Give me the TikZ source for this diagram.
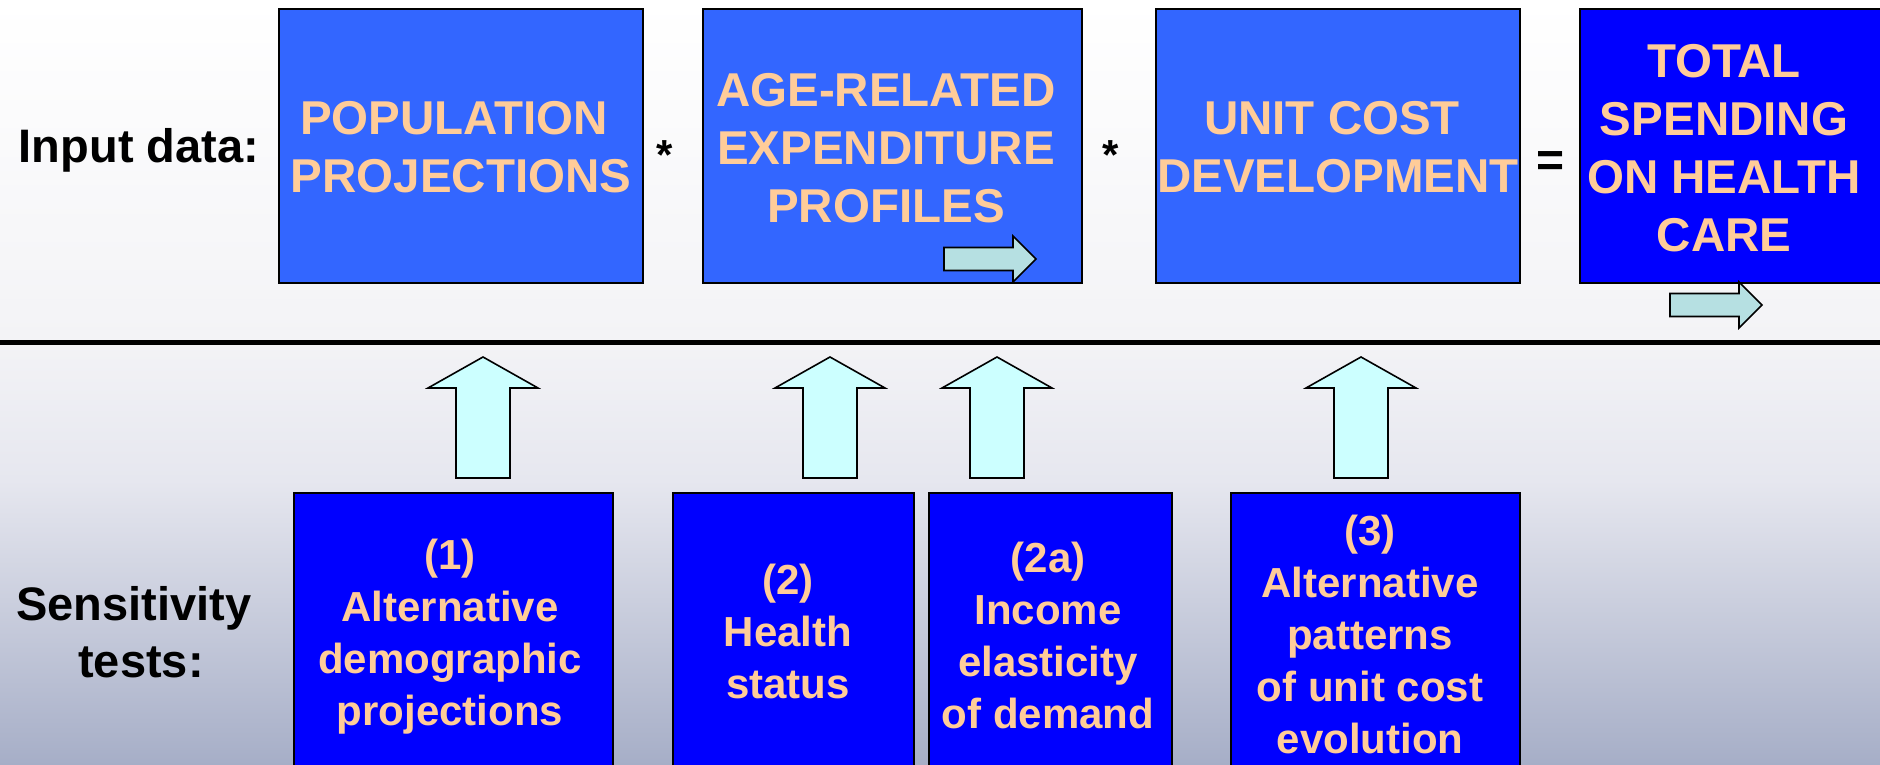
\documentclass[tikz,border=0pt]{standalone}
\usepackage{fontspec}
\setmainfont{Liberation Sans}
\definecolor{boxlight}{HTML}{3366FF}
\definecolor{boxdark}{HTML}{0000FF}
\definecolor{peach}{HTML}{FFCC99}
\definecolor{upcyan}{HTML}{CCFFFF}
\definecolor{rightcyan}{HTML}{B6E0E2}
\definecolor{bgA}{HTML}{F3F3F6}
\definecolor{bgB}{HTML}{E6E7EF}
\definecolor{bgC}{HTML}{A6AEC7}
\newcommand\linestack[1]{\vtop{\halign{\hfil##\hfil\cr#1\crcr}}}
\tikzset{
  inbox/.style={draw=black, line width=2pt, fill=boxlight, inner sep=0pt},
  outbox/.style={draw=black, line width=2pt, fill=boxdark, inner sep=0pt},
  testbox/.style={draw=black, line width=2pt, fill=boxdark, inner sep=0pt},
  toptext/.style={text=peach, font=\fontsize{47.5}{58}\selectfont\bfseries, inner sep=0pt, anchor=base},
  lowtext/.style={text=peach, font=\fontsize{42}{52}\selectfont\bfseries, inner sep=0pt, anchor=base},
  labeltext/.style={text=black, font=\fontsize{47}{57}\selectfont\bfseries, inner sep=0pt, anchor=base},
  optext/.style={text=black, font=\fontsize{42}{50}\selectfont\bfseries, inner sep=0pt, anchor=base},
  eqtext/.style={text=black, font=\fontsize{48}{56}\selectfont\bfseries, inner sep=0pt, anchor=base},
  blockedge/.style={draw=black, line width=1.6pt, line join=miter},
  uparrow/.pic={\draw[blockedge, fill=upcyan] (0,0) -- (55,31) -- (27,31) -- (27,121) -- (-27,121) -- (-27,31) -- (-55,31) -- cycle;},
  rightarrow/.pic={\draw[blockedge, fill=rightcyan] (0,0) -- (-23,-23) -- (-23,-11.5) -- (-92,-11.5) -- (-92,11.5) -- (-23,11.5) -- (-23,23) -- cycle;}
}
\begin{document}
\begin{tikzpicture}[x=1pt,y=-1pt]
\useasboundingbox (0,0) rectangle (1880,765);
\clip (0,0) rectangle (1880,765);
% background
\shade[top color=white, bottom color=bgA] (0,0) rectangle (1880,341);
\shade[top color=bgA, bottom color=bgB] (0,341) rectangle (1880,480);
\shade[top color=bgB, bottom color=bgC] (0,480) rectangle (1880,765);
\draw[line width=5pt] (0,342.5) -- (1880,342.5);

% labels
\node[labeltext] (inputlbl) at (139,163) {Input data:};
\node[labeltext] (senslbl) at (134,620) {\linestack{Sensitivity\cr \kern14pt tests:}};

% top row boxes
\node[inbox, minimum width=364pt, minimum height=274pt] (pop) at (461,146) {};
\node[inbox, minimum width=379pt, minimum height=274pt] (age) at (892.5,146) {};
\node[inbox, minimum width=364pt, minimum height=274pt] (unit) at (1338,146) {};
\node[outbox, minimum width=310pt, minimum height=274pt] (total) at (1735,146) {};

\node[toptext] (popt) at (461,135) {\linestack{POPULATION\kern14pt\cr PROJECTIONS}};
\node[toptext] (aget) at (886,107) {\linestack{AGE-RELATED\cr EXPENDITURE\cr PROFILES}};
\node[toptext] (unitt) at (1338,135) {\linestack{UNIT COST\kern12pt\cr DEVELOPMENT}};
\node[toptext] (totalt) at (1724,78) {\linestack{TOTAL\cr SPENDING\cr ON HEALTH\cr CARE}};

% operators
\node[optext] (star1) at (665,170) {*};
\node[optext] (star2) at (1111,170) {*};
\node[eqtext] (equals) at (1550,176) {=};

% small right arrows
\pic at (1036,259) {rightarrow};
\pic at (1762,305) {rightarrow};

% sensitivity boxes
\node[testbox, minimum width=319pt, minimum height=297pt] (s1) at (453.5,641.5) {};
\node[testbox, minimum width=241pt, minimum height=297pt] (s2) at (793.5,641.5) {};
\node[testbox, minimum width=243pt, minimum height=297pt] (s2a) at (1050.5,641.5) {};
\node[testbox, minimum width=289pt, minimum height=297pt] (s3) at (1375.5,641.5) {};

\node[lowtext] (s1t) at (450,569) {\linestack{(1)\cr Alternative\cr demographic\cr projections}};
\node[lowtext] (s2t) at (788,594) {\linestack{(2)\cr Health\cr status}};
\node[lowtext] (s2at) at (1048,572) {\linestack{(2a)\cr Income\cr elasticity\cr of demand}};
\node[lowtext] (s3t) at (1370,545) {\linestack{(3)\cr Alternative\cr patterns\cr of unit cost\cr evolution}};

% up arrows
\pic at (483,357) {uparrow};
\pic at (830,357) {uparrow};
\pic at (997,357) {uparrow};
\pic at (1361,357) {uparrow};
\end{tikzpicture}
\end{document}
